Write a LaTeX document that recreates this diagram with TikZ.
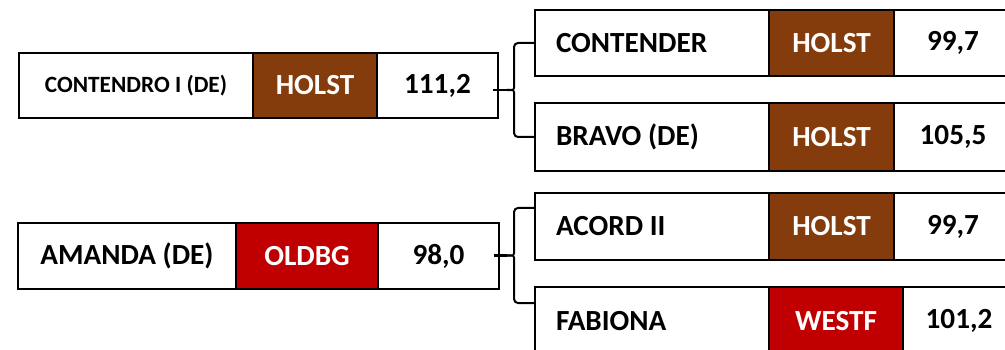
\documentclass[tikz,border=0pt]{standalone}
\usepackage{fontspec}
\setmainfont{Carlito}
\usetikzlibrary{calc}
\definecolor{holst}{HTML}{843C0C}
\definecolor{oldbg}{HTML}{C00000}
\tikzset{
  cell/.style={draw=black, line width=1.9pt, inner sep=0pt, outer sep=0pt,
    font=\fontsize{29.2}{31}\selectfont\bfseries, text=black},
  namecell/.style={cell, inner xsep=21pt, minimum width=234pt},
  clubH/.style={cell, fill=holst, text=white},
  clubR/.style={cell, fill=oldbg, text=white},
  brc/.style={draw=black, line width=2pt, rounded corners=4pt},
  brtip/.style={draw=black, line width=2.2pt},
}
\begin{document}
\begin{tikzpicture}[x=1pt, y=-1pt]
\clip (0,0) rectangle (1005,350);
\fill[white] (0,0) rectangle (1005,350);
% left row 1
\node[cell, minimum width=234pt, minimum height=65pt, font=\fontsize{23.3}{25}\selectfont\bfseries] (l1a) at (136,85.5) {CONTENDRO I (DE)};
\node[clubH, minimum width=124pt, minimum height=65pt] (l1b) at (315,85.5) {HOLST};
\node[cell, minimum width=121pt, minimum height=65pt] (l1c) at (437.5,85.5) {111,2};
% left row 2
\node[cell, minimum width=218pt, minimum height=66pt] (l2a) at (127,256) {AMANDA (DE)};
\node[clubR, minimum width=142pt, minimum height=66pt] (l2b) at (307,256) {OLDBG};
\node[cell, minimum width=121pt, minimum height=66pt] (l2c) at (438.5,256) {98,0};
% right rows
\node[namecell, minimum height=66pt] (r1a) at (652,43) {\makebox[192pt][l]{CONTENDER}};
\node[clubH, minimum width=125pt, minimum height=66pt] (r1b) at (831.5,43) {HOLST};
\node[cell, minimum width=118pt, minimum height=66pt] (r1c) at (953,43) {99,7};

\node[namecell, minimum height=68pt] (r2a) at (652,137) {\makebox[192pt][l]{BRAVO (DE)}};
\node[clubH, minimum width=125pt, minimum height=68pt] (r2b) at (831.5,137) {HOLST};
\node[cell, minimum width=118pt, minimum height=68pt] (r2c) at (953,137) {105,5};

\node[namecell, minimum height=67pt] (r3a) at (652,226.5) {\makebox[192pt][l]{ACORD II}};
\node[clubH, minimum width=125pt, minimum height=67pt] (r3b) at (831.5,226.5) {HOLST};
\node[cell, minimum width=118pt, minimum height=67pt] (r3c) at (953,226.5) {99,7};

\node[namecell, minimum height=68pt] (r4a) at (652,321) {\makebox[192pt][l]{FABIONA}};
\node[clubR, minimum width=134pt, minimum height=68pt] (r4b) at (836,321) {WESTF};
\node[cell, minimum width=112pt, minimum height=68pt] (r4c) at (959,321) {101,2};

% brace 1
\coordinate (a1) at (r1a.west);
\coordinate (b1) at (r2a.west);
\coordinate (m1) at ($(a1)!0.5!(b1)$);
\coordinate (v1) at ([xshift=-21pt]m1);
\coordinate (t1) at ($(l1c.east |- m1)+(-5,0)$);
\draw[brc] (a1) -| ([yshift=6pt]v1) .. controls (v1) .. ([xshift=-7pt]v1);
\draw[brc] ([xshift=-7pt]v1) .. controls (v1) .. ([yshift=-6pt]v1) |- (b1);
\draw[brtip] (t1) -- ([xshift=-7pt]v1);
% brace 2
\coordinate (a2) at ($(r3a.north west)+(0,15)$);
\coordinate (b2) at ($(r4a.north west)+(0,16)$);
\coordinate (m2) at ($(a2)!0.5!(b2)$);
\coordinate (v2) at ([xshift=-21pt]m2);
\coordinate (t2) at ($(l2c.east |- m2)+(-5,0)$);
\draw[brc] (a2) -| ([yshift=6pt]v2) .. controls (v2) .. ([xshift=-7pt]v2);
\draw[brc] ([xshift=-7pt]v2) .. controls (v2) .. ([yshift=-6pt]v2) |- (b2);
\draw[brtip] (t2) -- ([xshift=-7pt]v2);
\end{tikzpicture}
\end{document}
